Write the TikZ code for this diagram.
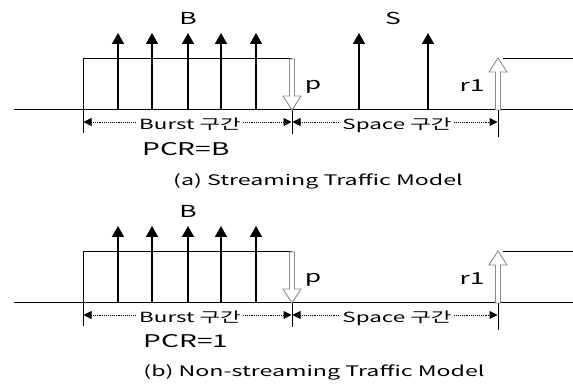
\documentclass[tikz,border=0pt]{standalone}
\usepackage{fontspec}
\newfontfamily\kr[FakeStretch=1.6]{Noto Sans CJK KR}
\usetikzlibrary{arrows.meta}
\tikzset{
  lbl/.style={font=\kr\fontsize{16.5}{18}\selectfont, inner sep=0pt, anchor=base},
  pcrtxt/.style={font=\kr\fontsize{17.5}{19}\selectfont, inner sep=0pt, anchor=base},
  captxt/.style={font=\kr\fontsize{14.5}{16}\selectfont, inner sep=0pt, anchor=base},
  dimtxt/.style={font=\kr\fontsize{14}{15}\selectfont, fill=white, inner xsep=2pt, inner ysep=1pt, anchor=base},
  pulse/.style={line width=1.6pt, -{Triangle[length=11pt,width=12pt]}},
  wire/.style={line width=1pt},
  dim/.style={line width=0.9pt, densely dotted, {Triangle[length=8pt,width=8pt]}-{Triangle[length=8pt,width=8pt]}, shorten <=0.5pt, shorten >=0.5pt},
  hollow/.style={draw=black!45, fill=white, line width=0.9pt}
}
\begin{document}
\begin{tikzpicture}[x=1pt,y=-1pt]
\useasboundingbox (0,0) rectangle (573,387);
\foreach \n/\yo in {a/0,b/193}{
  \begin{scope}[yshift=-\yo pt]
  \coordinate (\n L) at (14,110);
  \coordinate (\n R) at (573,110);
  \coordinate (\n x0t) at (83,59);
  \coordinate (\n x0b) at (83,133);
  \coordinate (\n x1t) at (292,59);
  \coordinate (\n x1) at (292,110);
  \coordinate (\n x1b) at (292,134);
  \coordinate (\n x2) at (498,110);
  \coordinate (\n x2b) at (498,137);
  \coordinate (\n rt0) at (503,59);
  \coordinate (\n rt1) at (573,59);
  \coordinate (\n d0) at (83,122);
  \coordinate (\n d1) at (292,122);
  \coordinate (\n d2) at (498,122);
  \draw[wire] (\n L) -- (\n R);
  \draw[wire] (\n x0b) -- (\n x0t) -- (\n x1t);
  \draw[wire] (\n rt0) -- (\n rt1);
  \draw[wire] (\n x1) -- (\n x1b);
  \draw[wire] (\n x2) -- (\n x2b);
  \foreach \xx [count=\i] in {118,152,188,221,256}{
    \coordinate (\n p\i b) at (\xx,110);
    \coordinate (\n p\i t) at (\xx,33);
    \draw[pulse] (\n p\i b) -- (\n p\i t);
  }
  \draw[hollow] (289.5,59) -- (289.5,96) -- (283,96) -- (292,110) -- (301,96) -- (294.5,96) -- (294.5,59) -- cycle;
  \draw[hollow] (495.5,110) -- (495.5,72) -- (489,72) -- (498,58) -- (507,72) -- (500.5,72) -- (500.5,110) -- cycle;
  \node[lbl] (\n B) at (188,25) {B};
  \node[lbl] (\n p) at (313,90) {p};
  \node[lbl] (\n r) at (472,92) {r1};
  \draw[dim] (\n d1) -- (\n d0);
  \draw[dim] (\n d1) -- (\n d2);
  \node[dimtxt] (\n bt) at (190,130) {Burst 구간};
  \node[dimtxt] (\n st) at (397,130) {Space 구간};
  \end{scope}
}
\coordinate (s1b) at (359,110); \coordinate (s1t) at (359,33);
\coordinate (s2b) at (428,110); \coordinate (s2t) at (428,33);
\draw[pulse] (s1b) -- (s1t);
\draw[pulse] (s2b) -- (s2t);
\node[lbl] (S) at (393,25) {S};
\node[pcrtxt] (pcra) at (186,156) {PCR=B};
\node[captxt] (capa) at (318,186) {(a) Streaming Traffic Model};
\node[pcrtxt] (pcrb) at (186,348) {PCR=1};
\node[captxt] (capb) at (314,377) {(b) Non-streaming Traffic Model};
\end{tikzpicture}
\end{document}
